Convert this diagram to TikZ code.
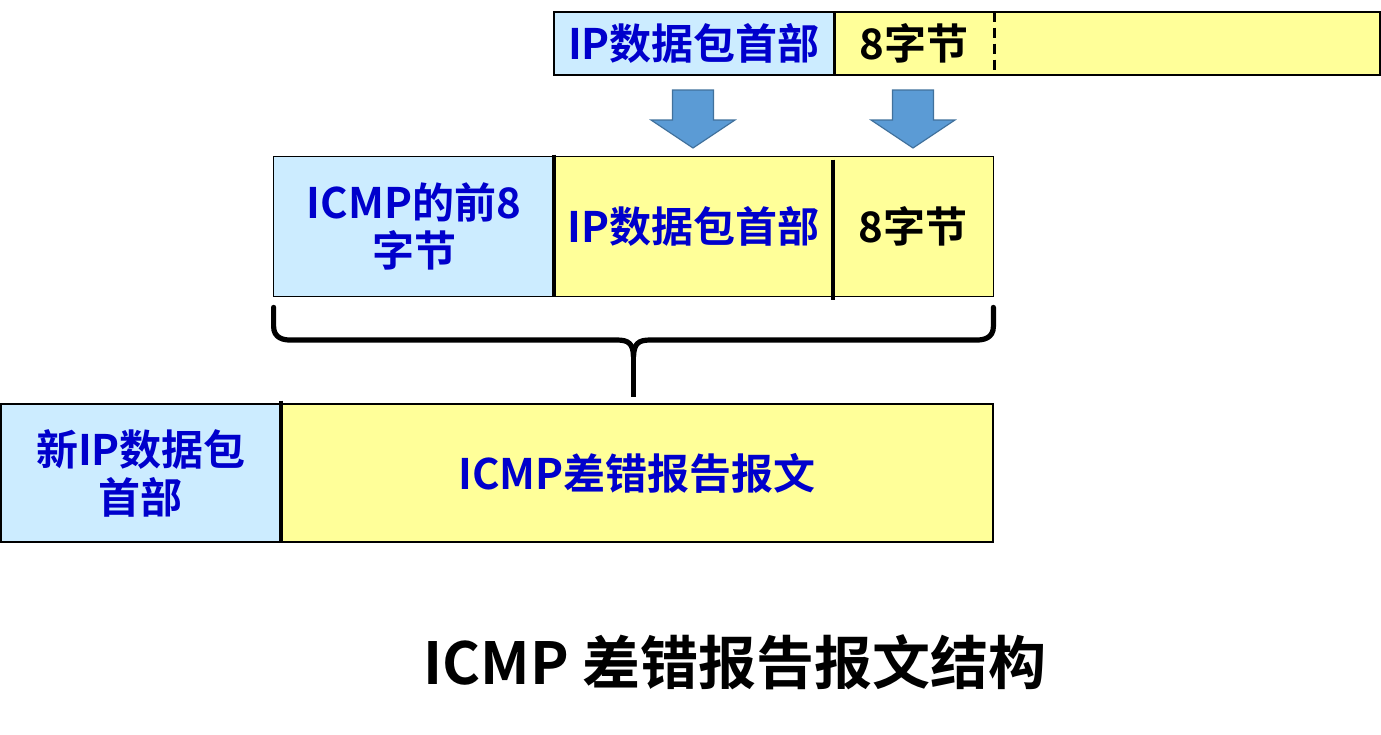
\documentclass[tikz,border=0pt]{standalone}
\usepackage{fontspec}
\setmainfont{Noto Sans CJK SC}[BoldFont={Noto Sans CJK SC Bold}]
\usetikzlibrary{calc}
\definecolor{hdrblue}{HTML}{CCECFF}
\definecolor{datayellow}{HTML}{FFFF99}
\definecolor{txtblue}{HTML}{0000CC}
\definecolor{arrowfill}{HTML}{5B9BD5}
\definecolor{arrowline}{HTML}{41719C}

\begin{document}
\begin{tikzpicture}[x=0.5pt,y=-0.5pt,
	field/.style={inner sep=0pt,align=center,font=\bfseries\fontsize{21}{24}\selectfont},
	hdr/.style={field,fill=hdrblue,text=txtblue},
	dat/.style={field,fill=datayellow},
	sep/.style={line width=2pt},
	down/.style={fill=arrowfill,draw=arrowline,line width=0.6pt},
	brace/.style={line width=2.6pt,line cap=round}]
		\useasboundingbox (0,0) rectangle (1381,734);
		% original datagram
		\node[hdr,minimum width=140pt,minimum height=31.5pt] (iphdr) at (694,43.5) {IP数据包首部};
		\node[dat,minimum width=80pt,minimum height=31.5pt] (bytes) at (914,43.5) {8字节};
		\node[dat,minimum width=193pt,minimum height=31.5pt] (rest) at (1187,43.5) {};
		\draw[line width=1pt] (iphdr.north west) rectangle (rest.south east);
		\draw[line width=1.2pt] (iphdr.north east) -- (iphdr.south east);
		\draw[line width=1.4pt,dash pattern=on 5pt off 3pt] (bytes.north east) -- (bytes.south east);
		% copied parts
		\foreach \cx in {693,913}
			\draw[down] (\cx-20.5,90) -- (\cx+20.5,90) -- (\cx+20.5,120) -- (\cx+42,120)
				-- (\cx,148) -- (\cx-42,120) -- (\cx-20.5,120) -- cycle;
		% ICMP data field
		\node[hdr,minimum width=140pt,minimum height=69.5pt] (icmp8) at (414,226.5) {ICMP的前8\\字节};
		\node[dat,text=txtblue,minimum width=139.5pt,minimum height=69.5pt] (iphdr2) at (693.5,226.5) {IP数据包首部};
		\node[dat,minimum width=80pt,minimum height=69.5pt] (bytes2) at (913,226.5) {8字节};
		\draw[line width=0.8pt] (icmp8.north west) rectangle (bytes2.south east);
		\draw[sep] ($(icmp8.north east)+(0,-2)$) -- (icmp8.south east);
		\draw[sep] ($(iphdr2.north east)+(0,3)$) -- ($(iphdr2.south east)+(0,4)$);
		% brace
		\coordinate (bl) at ($(icmp8.south west)+(0,11)$);
		\coordinate (br) at ($(bytes2.south east)+(0,11)$);
		\coordinate (bm) at ($(bl)!0.5!(br)+(0,49)$);
		\draw[brace] (bl) -- ++(0,19) .. controls ++(0,12) and (264+20,340) .. (290,340)
			-- (617,340) .. controls (629,340) and (633,344) .. (bm);
		\draw[brace] (br) -- ++(0,19) .. controls ++(0,12) and (1003-20,340) .. (977,340)
			-- (650,340) .. controls (638,340) and (634,344) .. (bm);
		\draw[brace,line cap=butt] (bm) -- ++(0,41);
		% new datagram
		\node[hdr,minimum width=140pt,minimum height=69pt] (newhdr) at (141,473) {新IP数据包\\首部};
		\node[dat,text=txtblue,minimum width=356pt,minimum height=69pt] (msg) at (637,473) {ICMP差错报告报文};
		\draw[line width=1pt] (newhdr.north west) rectangle (msg.south east);
		\draw[sep] ($(newhdr.north east)+(0,-3)$) -- (newhdr.south east);
		\node[font=\bfseries\fontsize{29}{33}\selectfont] (title) at (735,662) {ICMP 差错报告报文结构};
	\end{tikzpicture}
\end{document}
